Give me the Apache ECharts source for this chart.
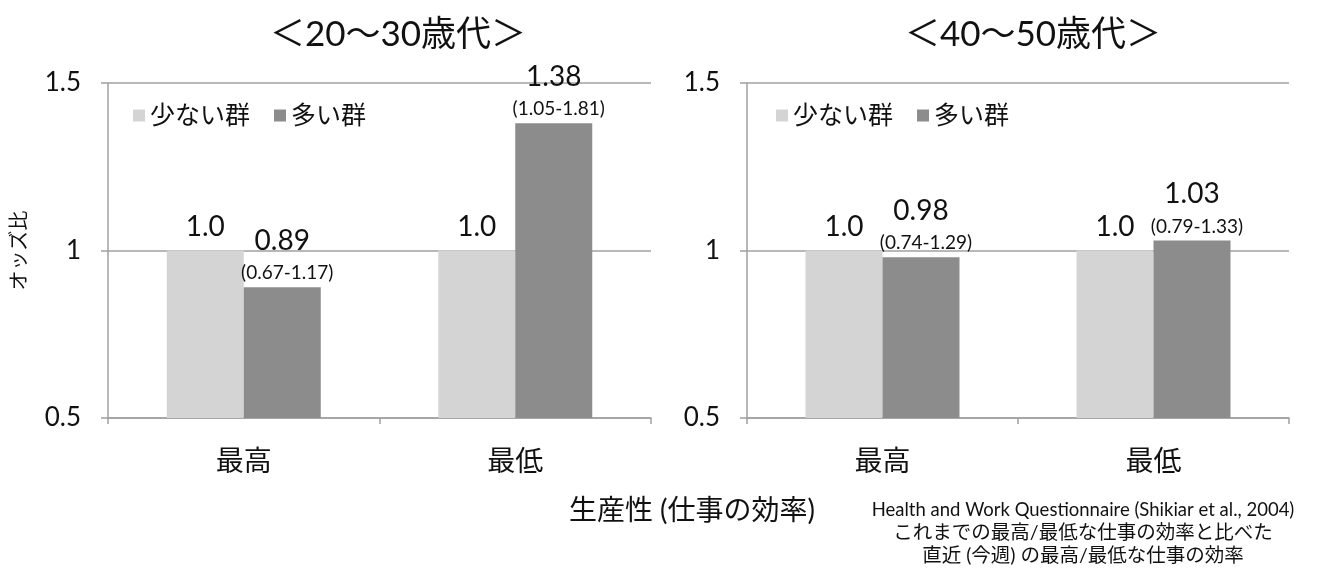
<!DOCTYPE html>
<html>
<head>
<meta charset="utf-8">
<script src="https://cdn.jsdelivr.net/npm/echarts@6/dist/echarts.min.js"></script>
<style>
  html, body { margin: 0; padding: 0; background: #fff; }
  #chart { width: 1319px; height: 569px; }
</style>
</head>
<body>
<div id="chart"></div>
<script>
// Productivity categories and odds ratios by age group
const categories = ['最高', '最低'];
const seriesNames = ['少ない群', '多い群'];
const yTicks = { min: 0.5, max: 1.5, interval: 0.5 };

const youngFew = [1.0, 1.0];
const youngMany = [0.89, 1.38];
const youngCI = ['(0.67-1.17)', '(1.05-1.81)'];

const middleFew = [1.0, 1.0];
const middleMany = [0.98, 1.03];
const middleCI = ['(0.74-1.29)', '(0.79-1.33)'];

const panelTitles = ['＜20〜30歳代＞', '＜40〜50歳代＞'];
const yAxisName = 'オッズ比';
const xAxisName = '生産性 (仕事の効率)';
const noteLines = [
  'Health and Work Questionnaire (Shikiar et al., 2004)',
  'これまでの最高/最低な仕事の効率と比べた',
  '直近 (今週) の最高/最低な仕事の効率'
];

const FONT = "Lato, 'Noto Sans CJK JP', sans-serif";
const LIGHT = '#d4d4d4';
const DARK = '#8c8c8c';
const LINE = '#a0a0a0';
const INK = '#111';

const chart = echarts.init(document.getElementById('chart'));

const grids = [
  { left: 108, right: 668, top: 83, bottom: 151 },
  { left: 747, right: 30, top: 83, bottom: 151 }
];

function xAxisFor(i) {
  return {
    type: 'category', gridIndex: i, data: categories,
    axisLine: { show: true, lineStyle: { color: LINE, width: 1.5 } },
    axisTick: { show: true, length: 6, lineStyle: { color: LINE, width: 1.5 } },
    axisLabel: { color: INK, fontSize: 28, fontFamily: FONT, margin: 30 }
  };
}

function yAxisFor(i) {
  return {
    type: 'value', gridIndex: i,
    min: yTicks.min, max: yTicks.max, interval: yTicks.interval,
    name: i === 0 ? yAxisName : '',
    nameLocation: 'middle', nameRotate: 90, nameGap: 78,
    nameTextStyle: { color: INK, fontSize: 20, fontFamily: FONT },
    axisLine: { show: true, lineStyle: { color: LINE, width: 1.5 } },
    axisTick: { show: true, length: 7, lineStyle: { color: LINE, width: 1.5 } },
    axisLabel: { color: INK, fontSize: 26, fontFamily: FONT, margin: 27 },
    splitLine: { show: true, lineStyle: { color: LINE, width: 1.5 } }
  };
}

function fewSeries(i, data) {
  return {
    name: seriesNames[0], type: 'bar', xAxisIndex: i, yAxisIndex: i,
    data: data, barWidth: 77, barGap: '0%',
    itemStyle: { color: LIGHT },
    label: {
      show: true, position: 'top', distance: 10,
      color: INK, fontSize: 28, fontFamily: FONT,
      formatter: p => p.value.toFixed(1)
    },
    z: 2
  };
}

function manySeries(i, data, ci) {
  return {
    name: seriesNames[1], type: 'bar', xAxisIndex: i, yAxisIndex: i,
    data: data, barWidth: 77, barGap: '0%',
    itemStyle: { color: DARK },
    label: {
      show: true, position: 'top', distance: 3,
      fontFamily: FONT, color: INK,
      formatter: p => '{v|' + p.value.toFixed(2) + '}\n{ci|' + ci[p.dataIndex] + '}',
      rich: {
        v: { fontSize: 28, fontFamily: FONT, color: INK, lineHeight: 42 },
        ci: { fontSize: 19, fontFamily: FONT, color: INK, lineHeight: 22, padding: [0, 0, 0, 10] }
      }
    },
    z: 2
  };
}

function legendAt(left) {
  return {
    left: left, top: 98, orient: 'horizontal',
    icon: 'rect', itemWidth: 12, itemHeight: 12, itemGap: 24,
    data: seriesNames,
    textStyle: { color: INK, fontSize: 25, fontFamily: FONT }
  };
}

chart.setOption({
  animation: false,
  backgroundColor: '#fff',
  title: [
    { text: panelTitles[0], left: 393, top: 12, textAlign: 'center',
      textStyle: { fontSize: 35, fontWeight: 'normal', color: INK, fontFamily: FONT } },
    { text: panelTitles[1], left: 1028, top: 12, textAlign: 'center',
      textStyle: { fontSize: 35, fontWeight: 'normal', color: INK, fontFamily: FONT } }
  ],
  legend: [legendAt(128), legendAt(771)],
  grid: grids,
  xAxis: [xAxisFor(0), xAxisFor(1)],
  yAxis: [yAxisFor(0), yAxisFor(1)],
  series: [
    fewSeries(0, youngFew), manySeries(0, youngMany, youngCI),
    fewSeries(1, middleFew), manySeries(1, middleMany, middleCI)
  ],
  graphic: [
    {
      type: 'text',
      style: {
        text: xAxisName, x: 692, y: 511,
        textAlign: 'center', textVerticalAlign: 'middle',
        fill: INK, font: '28px ' + FONT
      }
    }
  ].concat(noteLines.map((t, k) => ({
    type: 'text',
    style: {
      text: t, x: 1083, y: 510 + k * 23,
      textAlign: 'center', textVerticalAlign: 'middle',
      fill: INK, font: (k === 0 ? '18.5px ' : '19.5px ') + FONT
    }
  })))
});
</script>
</body>
</html>
